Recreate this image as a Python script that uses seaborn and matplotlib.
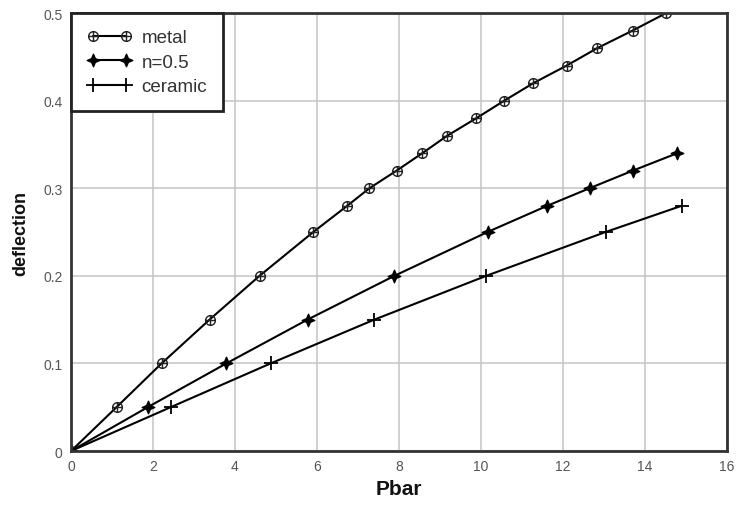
import numpy as np
import pandas as pd
import matplotlib
matplotlib.use("Agg")
import matplotlib.pyplot as plt
from matplotlib.path import Path
import seaborn as sns

# ---- data ----
metal_x = [0, 1.11, 2.21, 3.38, 4.60, 5.91, 6.74, 7.28, 7.94, 8.57, 9.18, 9.89, 10.57, 11.28, 12.09, 12.84, 13.70, 14.52]
metal_y = [0, 0.05, 0.10, 0.15, 0.20, 0.25, 0.28, 0.30, 0.32, 0.34, 0.36, 0.38, 0.40, 0.42, 0.44, 0.46, 0.48, 0.50]
n05_x = [0, 1.87, 3.79, 5.77, 7.89, 10.16, 11.62, 12.65, 13.70, 14.79]
n05_y = [0, 0.05, 0.10, 0.15, 0.20, 0.25, 0.28, 0.30, 0.32, 0.34]
cer_x = [0, 2.43, 4.87, 7.40, 10.13, 13.04, 14.90]
cer_y = [0, 0.05, 0.10, 0.15, 0.20, 0.25, 0.28]
series_names = ["metal", "n=0.5", "ceramic"]
x_ticks = [0, 2, 4, 6, 8, 10, 12, 14, 16]
y_ticks = [0, 0.1, 0.2, 0.3, 0.4, 0.5]
y_ticklabels = ["0", "0.1", "0.2", "0.3", "0.4", "0.5"]

sns.set_theme(style="white")
plt.rcParams["font.family"] = ["Liberation Sans", "DejaVu Sans"]

# custom markers
circ_plus = Path.make_compound_path(
    Path.unit_circle(),
    Path([[-1, 0], [1, 0]], [Path.MOVETO, Path.LINETO]),
    Path([[0, -1], [0, 1]], [Path.MOVETO, Path.LINETO]),
)
star4 = Path([[0, 1], [0.3, 0.3], [1, 0], [0.3, -0.3], [0, -1], [-0.3, -0.3], [-1, 0], [-0.3, 0.3], [0, 1]],
             [Path.MOVETO] + [Path.LINETO] * 7 + [Path.CLOSEPOLY])

fig = plt.figure(figsize=(7.38, 5.10), dpi=100)
ax = fig.add_axes([0.0962, 0.1137, 0.8888, 0.8588])

df_m = pd.DataFrame({"x": metal_x, "y": metal_y})
df_n = pd.DataFrame({"x": n05_x, "y": n05_y})
df_c = pd.DataFrame({"x": cer_x, "y": cer_y})

sns.lineplot(data=df_m, x="x", y="y", ax=ax, color="black", lw=1.5, marker=circ_plus,
             markersize=7, markerfacecolor="none", markeredgecolor="#222222", markeredgewidth=1.0,
             label=series_names[0], sort=False)
sns.lineplot(data=df_n, x="x", y="y", ax=ax, color="black", lw=1.5, marker=star4,
             markersize=9, markerfacecolor="black", markeredgecolor="black", markeredgewidth=1.0,
             label=series_names[1], sort=False)
sns.lineplot(data=df_c, x="x", y="y", ax=ax, color="black", lw=1.5, marker="+",
             markersize=10, markeredgewidth=1.3, markeredgecolor="black",
             label=series_names[2], sort=False)

ax.set_xlim(0, 16)
ax.set_ylim(0, 0.5)
ax.set_xticks(x_ticks)
ax.set_yticks(y_ticks)
ax.set_yticklabels(y_ticklabels)
ax.grid(True, color="#c8c8c8", lw=1.2)
ax.set_axisbelow(True)
ax.tick_params(axis="both", length=0, labelsize=10, labelcolor="#555555", pad=6)
for s in ax.spines.values():
    s.set_color("#333333")
    s.set_linewidth(2)

ax.set_xlabel("Pbar", fontsize=15, fontweight="bold", color="#111111", labelpad=4)
ax.set_ylabel("deflection", fontsize=13, fontweight="bold", color="#111111", labelpad=10)

leg = ax.legend(loc="upper left", borderaxespad=0, numpoints=2, fancybox=False,
                frameon=True, fontsize=13.5, handlelength=2.4, borderpad=0.85,
                labelspacing=0.4, handletextpad=0.5)
leg.get_frame().set_edgecolor("#222222")
leg.get_frame().set_linewidth(2)
leg.get_frame().set_alpha(1)
for t in leg.get_texts():
    t.set_color("#333333")

fig.savefig("out.png", dpi=100)
